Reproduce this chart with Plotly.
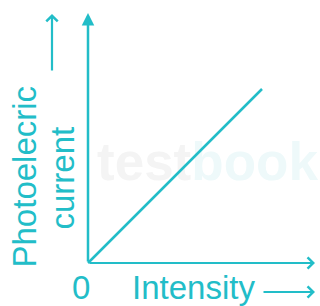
import plotly.graph_objects as go

# Data (arbitrary units: linear through origin)
intensity = [0, 8]
photo_current = [0, 8]

x_label = "Intensity"
y_label_line1 = "Photoelecric"
y_label_line2 = "current"
origin_label = "0"

TEAL = "#22BDC8"
FONT = "Liberation Sans, Arial, sans-serif"
W, H = 320, 306
U = 21.75          # pixels per data unit
OX, OY = 88, 263   # origin in pixels


def px(x):
    return x / W


def py(y):
    return 1 - y / H


fig = go.Figure()

# faint watermark (drawn first so the line sits on top)
fig.add_trace(go.Scatter(
    x=[(97 - OX) / U], y=[(OY - 167) / U], mode="text",
    text=["<b><span style='color:#f4f4f4'>test</span><span style='color:#eef9fa'>book</span></b>"],
    textposition="middle right", textfont=dict(size=53, family=FONT),
    cliponaxis=False, hoverinfo="skip", showlegend=False))

fig.add_trace(go.Scatter(
    x=intensity, y=photo_current, mode="lines",
    line=dict(color=TEAL, width=2.5), showlegend=False, hoverinfo="skip"))

ann = []
# y axis with filled arrowhead
ann.append(dict(x=px(OX), y=py(13), xref="paper", yref="paper", ax=0, ay=OY - 13,
                axref="pixel", ayref="pixel", text="", showarrow=True,
                arrowhead=2, arrowsize=1, arrowwidth=2.5, arrowcolor=TEAL))
# x axis with open arrowhead
ann.append(dict(x=px(315), y=py(OY), xref="paper", yref="paper", ax=-(315 - OX), ay=0,
                text="", showarrow=True, arrowhead=4, arrowsize=1, arrowwidth=2.2,
                arrowcolor=TEAL))
# label arrows
ann.append(dict(x=px(52), y=py(14), xref="paper", yref="paper", ax=0, ay=58,
                text="", showarrow=True, arrowhead=4, arrowsize=1, arrowwidth=2.2,
                arrowcolor=TEAL))
ann.append(dict(x=px(315), y=py(292), xref="paper", yref="paper", ax=-53, ay=0,
                text="", showarrow=True, arrowhead=4, arrowsize=1, arrowwidth=2.2,
                arrowcolor=TEAL))
# texts
common = dict(xref="paper", yref="paper", showarrow=False, xanchor="center", yanchor="middle",
              font=dict(size=33, color=TEAL, family=FONT))
ann.append(dict(x=px(24), y=py(176.5), text=y_label_line1, textangle=-90, **common))
ann.append(dict(x=px(62), y=py(178.5), text=y_label_line2, textangle=-90, **common))
ann.append(dict(x=px(81), y=py(287), text=origin_label, **common))
ann.append(dict(x=px(193.5), y=py(287), text=x_label, **common))

fig.update_layout(
    width=W, height=H, margin=dict(l=0, r=0, t=0, b=0),
    paper_bgcolor="white", plot_bgcolor="white",
    xaxis=dict(visible=False, range=[-OX / U, (W - OX) / U], domain=[0, 1]),
    yaxis=dict(visible=False, range=[-(H - OY) / U, OY / U], domain=[0, 1]),
    annotations=ann, showlegend=False)

fig.write_html("out.html", config={"displayModeBar": False},
               post_script="document.body.style.margin='0';document.body.style.padding='0';")
